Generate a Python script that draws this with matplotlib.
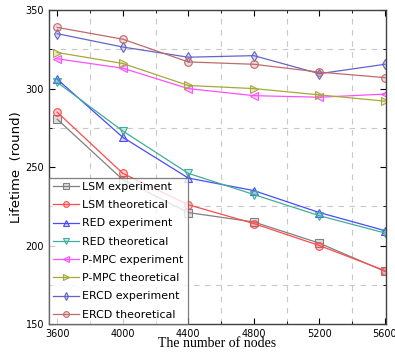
import matplotlib.pyplot as plt
from matplotlib.ticker import MultipleLocator

nodes = [3600, 4000, 4400, 4800, 5200, 5600]

lsm_exp = [280.5, 242, 221, 215, 201.5, 183.5]
lsm_theo = [285, 246, 226, 214, 200, 184]
red_exp = [306, 269, 243, 235, 221, 209.5]
red_theo = [304, 273, 246, 232.5, 219, 208]
pmpc_exp = [319, 313, 300, 295.5, 294.5, 296.5]
pmpc_theo = [323, 316, 302, 300, 296, 292]
ercd_exp = [335, 326.5, 320, 321, 309.5, 315.5]
ercd_theo = [339, 331.5, 317, 315.5, 310.5, 307]

labels = ["LSM experiment", "LSM theoretical", "RED experiment", "RED theoretical",
          "P-MPC experiment", "P-MPC theoretical", "ERCD experiment", "ERCD theoretical"]
series = [lsm_exp, lsm_theo, red_exp, red_theo, pmpc_exp, pmpc_theo, ercd_exp, ercd_theo]
colors = ["#808080", "#ff4a4a", "#4a4aff", "#3fae9c", "#ff50ff", "#a8a83a", "#6464c8", "#c06a6a"]
markers = ["s", "o", "^", "v", "<", ">", "d", "o"]

fig = plt.figure(figsize=(3.95, 3.62), dpi=100)
ax = fig.add_axes([0.124, 0.105, 0.853, 0.867])

for ys, lab, c, m in zip(series, labels, colors, markers):
    ax.plot(nodes, ys, color=c, marker=m, markersize=5.5, markerfacecolor=c + "40",
            markeredgecolor=c, linewidth=0.9, markeredgewidth=0.8, label=lab)

ax.set_xlim(3550, 5606)
ax.set_ylim(150, 350)
ax.xaxis.set_major_locator(MultipleLocator(400))
ax.xaxis.set_minor_locator(MultipleLocator(200))
ax.yaxis.set_major_locator(MultipleLocator(50))
ax.yaxis.set_minor_locator(MultipleLocator(25))
ax.tick_params(which="both", direction="in", top=True, right=True, labelsize=7)
ax.tick_params(which="major", length=4)
ax.tick_params(which="minor", length=2)
ax.grid(which="minor", linestyle=(0, (5, 5)), color="#c8c8c8", linewidth=0.8)
for s in ax.spines.values():
    s.set_linewidth(1.0)
    s.set_color("#404040")

ax.set_xlabel("The number of nodes", family="Liberation Serif", fontsize=10, labelpad=-1)
ax.set_ylabel("Lifetime  (round)", fontsize=9.5, labelpad=2)

leg = ax.legend(loc="lower left", fontsize=7.9, borderaxespad=0, handlelength=2.3,
                labelspacing=0.75, fancybox=False, edgecolor="#606060", borderpad=0.4,
                handletextpad=0.3, markerscale=0.75)
leg.get_frame().set_linewidth(0.9)

fig.savefig("out.png", dpi=100)
